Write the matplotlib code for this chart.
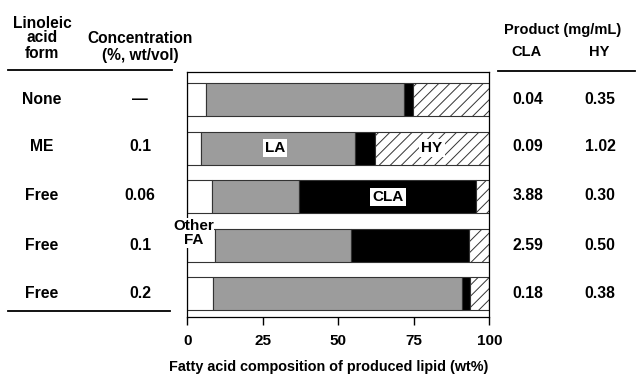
import matplotlib
matplotlib.use('Agg')
import matplotlib.pyplot as plt
import numpy as np

plt.rcParams['font.family'] = ['Liberation Sans', 'DejaVu Sans']
plt.rcParams['font.weight'] = 'bold'
plt.rcParams['hatch.linewidth'] = 0.7
plt.rcParams['hatch.color'] = '#666666'

# table data
forms = ['None', 'ME', 'Free', 'Free', 'Free']
concs = ['\u2014', '0.1', '0.06', '0.1', '0.2']
cla_prod = ['0.04', '0.09', '3.88', '2.59', '0.18']
hy_prod = ['0.35', '1.02', '0.30', '0.50', '0.38']

# fatty acid composition (wt%)
other_fa = [6.1, 4.5, 8.1, 9.2, 8.6]
la = [65.7, 51.1, 28.8, 45.0, 82.3]
cla = [2.8, 6.6, 58.7, 39.1, 2.7]
hy = [25.4, 37.8, 4.4, 6.7, 6.4]

fig = plt.figure(figsize=(6.36, 3.75), dpi=100)
ax = fig.add_axes([0.2945, 0.1547, 0.4748, 0.6533])

y = np.arange(len(forms))
h = 0.68
ax.barh(y, other_fa, height=h, color='white', edgecolor='#333333', lw=0.8)
ax.barh(y, la, left=other_fa, height=h, color='#9c9c9c', edgecolor='#333333', lw=0.8)
left2 = np.array(other_fa) + np.array(la)
ax.barh(y, cla, left=left2, height=h, color='black', edgecolor='#333333', lw=0.8)
left3 = left2 + np.array(cla)
ax.barh(y, hy, left=left3, height=h, color='white', edgecolor='#333333', lw=0.8, hatch='///')

ax.set_xlim(0, 100)
ax.set_ylim(4.48, -0.57)
ax.set_yticks([])
ax.set_xticks([0, 25, 50, 75, 100])
ax.tick_params(axis='x', labelsize=11, length=6, width=1, pad=6)
for s in ax.spines.values():
    s.set_linewidth(0.9)

box = dict(facecolor='white', edgecolor='none', pad=1.5)
ax.text(29, 1, 'LA', ha='center', va='center', fontsize=11, bbox=box)
ax.text(81, 1, 'HY', ha='center', va='center', fontsize=11, bbox=box)
ax.text(66.5, 2, 'CLA', ha='center', va='center', fontsize=11, bbox=box)
ax.text(2, 2.75, 'Other\nFA', ha='center', va='center', fontsize=11,
        linespacing=1.0, bbox=dict(facecolor='white', edgecolor='none', pad=0.5),
        clip_on=False)

# table text in figure pixel coords
def px(xp, yp):
    return xp / 636, 1 - yp / 375

row_y = [99.5, 146.5, 195, 245.5, 293.5]
for i in range(len(forms)):
    fig.text(*px(42, row_y[i]), forms[i], ha='center', va='center', fontsize=11.3)
    fig.text(*px(140, row_y[i]), concs[i], ha='center', va='center', fontsize=11.3)
    fig.text(*px(528, row_y[i]), cla_prod[i], ha='center', va='center', fontsize=11.3)
    fig.text(*px(600, row_y[i]), hy_prod[i], ha='center', va='center', fontsize=11.3)

fig.text(*px(42, 38), 'Linoleic\nacid\nform', ha='center', va='center',
         fontsize=11.2, linespacing=1.0)
fig.text(*px(140, 47), 'Concentration\n(%, wt/vol)', ha='center', va='center',
         fontsize=11.2, linespacing=1.1)
fig.text(*px(563, 30), 'Product (mg/mL)', ha='center', va='center', fontsize=10.5)
fig.text(*px(527, 52), 'CLA', ha='center', va='center', fontsize=10.5)
fig.text(*px(599, 52), 'HY', ha='center', va='center', fontsize=10.5)

fig.text(*px(329, 367), 'Fatty acid composition of produced lipid (wt%)',
         ha='center', va='center', fontsize=10.4)

fig.add_artist(plt.Line2D([8 / 636, 172 / 636], [1 - 70 / 375] * 2, color='black', lw=1.3))
fig.add_artist(plt.Line2D([8 / 636, 170 / 636], [1 - 311 / 375] * 2, color='black', lw=1.3))
fig.add_artist(plt.Line2D([498 / 636, 635 / 636], [1 - 71 / 375] * 2, color='black', lw=1.3))

fig.savefig('out.png', dpi=100)
